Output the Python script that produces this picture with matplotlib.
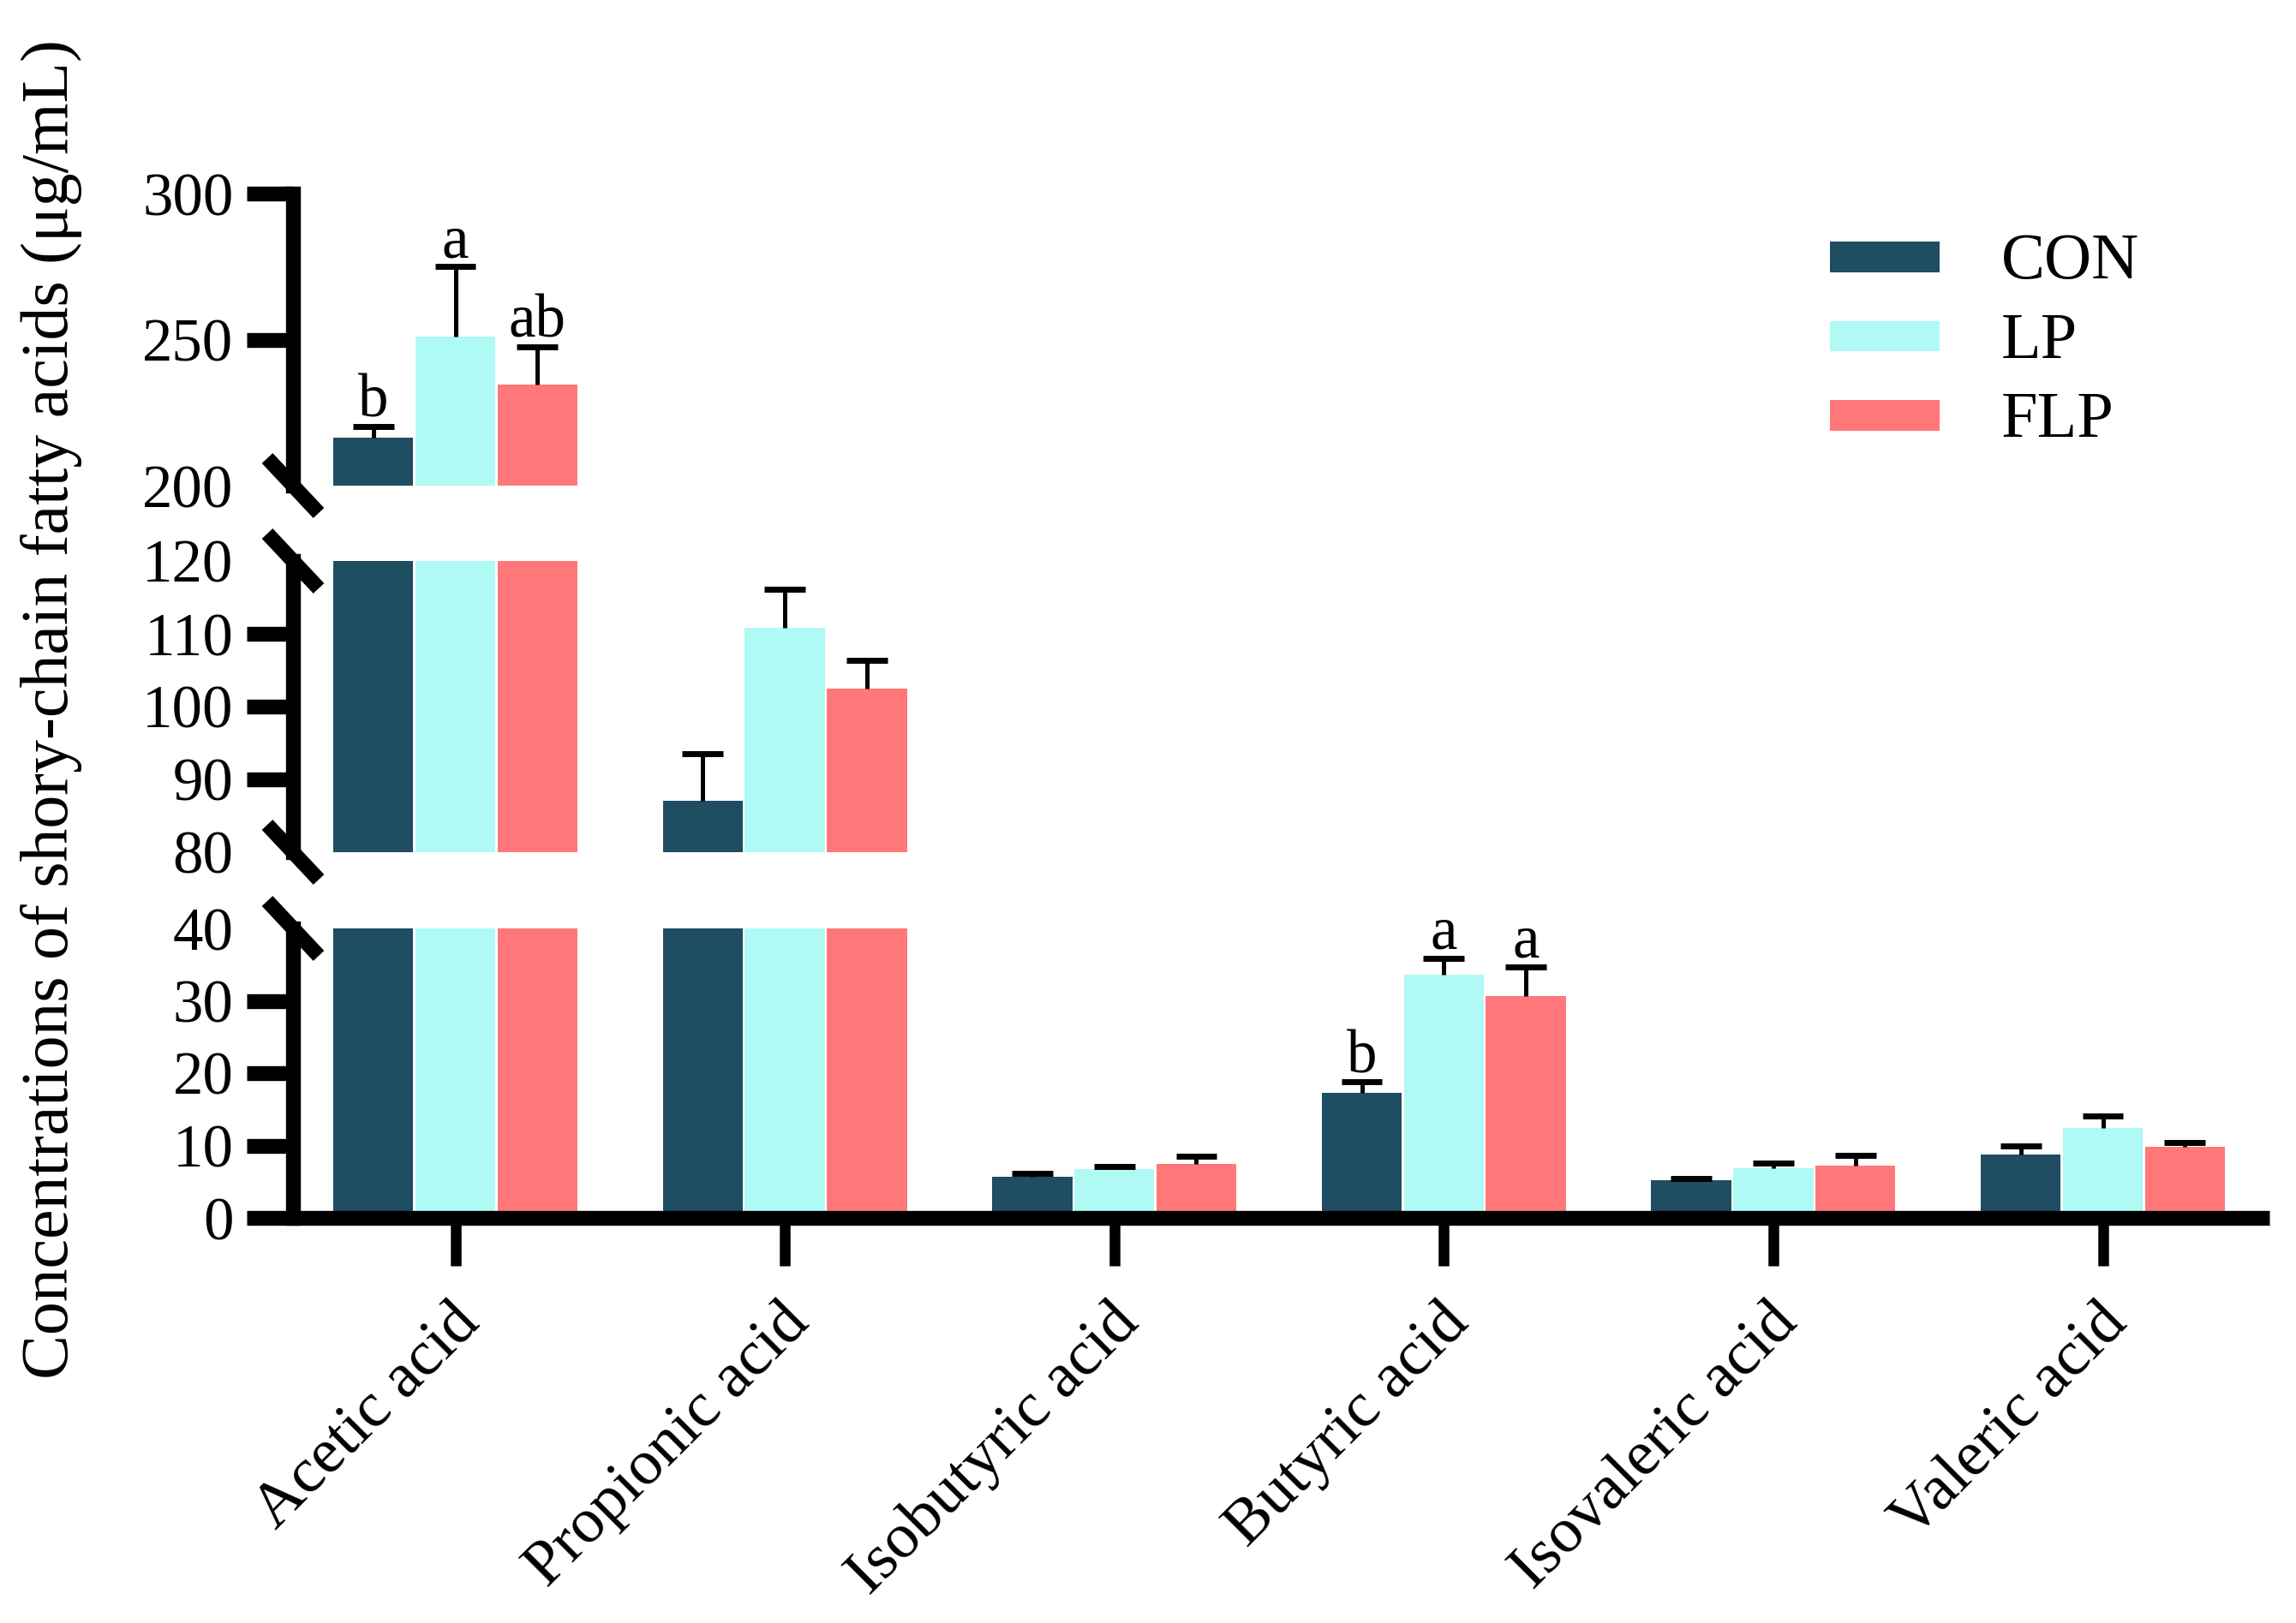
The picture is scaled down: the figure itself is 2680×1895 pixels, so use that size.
import matplotlib
matplotlib.use("Agg")
import matplotlib.pyplot as plt
from matplotlib.patches import Rectangle
from matplotlib.transforms import ScaledTranslation
import numpy as np

plt.rcParams['font.family'] = ['Liberation Serif', 'DejaVu Serif']

# ---------------- data ----------------
categories = ['Acetic acid', 'Propionic acid', 'Isobutyric acid',
              'Butyric acid', 'Isovaleric acid', 'Valeric acid']
groups = ['CON', 'LP', 'FLP']
con_mean = [216.5, 87.0, 5.7, 17.3, 5.2, 8.8]
con_sd = [3.8, 6.5, 0.4, 1.5, 0.2, 1.2]
lp_mean = [251.0, 110.8, 6.7, 33.6, 6.9, 12.4]
lp_sd = [24.0, 5.3, 0.4, 2.3, 0.7, 1.7]
flp_mean = [234.5, 102.5, 7.4, 30.6, 7.2, 9.8]
flp_sd = [13.0, 3.8, 1.1, 4.1, 1.4, 0.6]
# significance letters: (category index, group index, letter)
sig_letters = [(0, 0, 'b'), (0, 1, 'a'), (0, 2, 'ab'),
               (3, 0, 'b'), (3, 1, 'a'), (3, 2, 'a')]
colors = ['#1F4D62', '#AFFAF4', '#FF7779']
segments = [(200, 300), (80, 120), (0, 40)]
seg_ticks = [[200, 250, 300], [80, 90, 100, 110, 120], [0, 10, 20, 30, 40]]
ylabel = 'Concentrations of shory-chain fatty acids (μg/mL)'

means = [con_mean, lp_mean, flp_mean]
sds = [con_sd, lp_sd, flp_sd]

# ---------------- layout ----------------
W, H = 2680, 1895
DPI = 100
fig = plt.figure(figsize=(W / DPI, H / DPI), dpi=DPI)

left_px, right_px = 342, 2649
tick0_px, tick_step_px = 531.5, 384.6
xlim = (-(tick0_px - left_px) / tick_step_px,
        5 + (right_px - (tick0_px + 5 * tick_step_px)) / tick_step_px)
seg_px = [(226, 567), (655, 995), (1084, 1422)]  # top, bottom pixel rows

AX_LW = 12.5
FS = 51
bar_w = 0.243
offs = [-0.249, 0.0, 0.249]
cap_half = 0.062

axes = []
for k, ((y0, y1), (t_px, b_px)) in enumerate(zip(segments, seg_px)):
    ax = fig.add_axes([left_px / W, 1 - b_px / H, (right_px - left_px) / W, (b_px - t_px) / H])
    axes.append(ax)
    x = np.arange(len(categories))
    for g in range(3):
        xs = x + offs[g]
        ax.bar(xs, means[g], width=bar_w, color=colors[g], edgecolor='none', zorder=2)
        tops = np.array(means[g]) + np.array(sds[g])
        ax.vlines(xs, means[g], tops, color='black', lw=3.6, zorder=3)
        ax.hlines(tops, xs - cap_half, xs + cap_half, color='black', lw=5, zorder=3)
    ax.set_xlim(*xlim)
    ax.set_ylim(y0, y1)
    for s in ['top', 'right', 'bottom']:
        ax.spines[s].set_visible(False)
    ax.spines['left'].set_linewidth(AX_LW)
    ax.spines['left'].set_capstyle('projecting')
    ax.set_yticks(seg_ticks[k])
    ax.set_yticklabels([str(t) for t in seg_ticks[k]])
    ax.tick_params(axis='y', length=39, width=AX_LW, pad=11, labelsize=FS, direction='out')
    ax.set_xticks([])
    ax.patch.set_alpha(0)
    ticks = ax.yaxis.get_major_ticks()
    # hide tick marks where the axis is broken (and at 0, drawn by the x axis line)
    if k == 0:
        ticks[0].tick1line.set_visible(False)
    else:
        ticks[0].tick1line.set_visible(False)
        ticks[-1].tick1line.set_visible(False)

    # break marks
    aw = (right_px - left_px)
    ah = (b_px - t_px)
    dx, dy = 30 / aw, 32 / ah
    if k == 0:
        ends = [0]
    elif k == 1:
        ends = [0, 1]
    else:
        ends = [1]
    for e in ends:
        ax.plot([-dx, dx], [e + dy, e - dy], transform=ax.transAxes, color='black',
                lw=AX_LW, clip_on=False, solid_capstyle='butt', zorder=5)

axb = axes[-1]
# x axis line (extends left of the y axis)
ext = (left_px - 288) / (right_px - left_px)
axb.plot([-ext, 1], [0, 0], transform=axb.get_yaxis_transform(), color='black',
         lw=AX_LW, clip_on=False, solid_capstyle='butt', zorder=6)
# x ticks
xt = np.arange(len(categories))
axb.set_xticks(xt)
axb.set_xticklabels([])
axb.tick_params(axis='x', length=40, width=9, direction='out', pad=0)
axb.xaxis.set_ticks_position('bottom')

# category labels
off = ScaledTranslation(-6 / DPI, -88 / DPI, fig.dpi_scale_trans)
for i, name in enumerate(categories):
    axb.text(i, 0, name, transform=axb.get_xaxis_transform() + off, rotation=45,
             rotation_mode='anchor', ha='right', va='top', fontsize=54)

# significance letters
for ci, gi, lt in sig_letters:
    top = means[gi][ci] + sds[gi][ci]
    ax = axes[0] if ci == 0 else axes[2]
    ax.annotate(lt, (ci + offs[gi], top), xytext=(0, 8), textcoords='offset points',
                ha='center', va='baseline', fontsize=FS, zorder=7)

# y label
fig.text(60 / W, 1 - 828 / H, ylabel, rotation=90, ha='center', va='center', fontsize=56)

# legend
leg_y = [300, 393, 485]
for g, (name, yc) in enumerate(zip(groups, leg_y)):
    fig.add_artist(Rectangle((2136 / W, 1 - (yc + 17.5) / H), 128 / W, 35 / H,
                             transform=fig.transFigure, facecolor=colors[g], edgecolor='none'))
    fig.text(2336 / W, 1 - (yc + 25) / H, name, ha='left', va='baseline', fontsize=55)

fig.savefig('out.png', dpi=DPI, facecolor='white')
